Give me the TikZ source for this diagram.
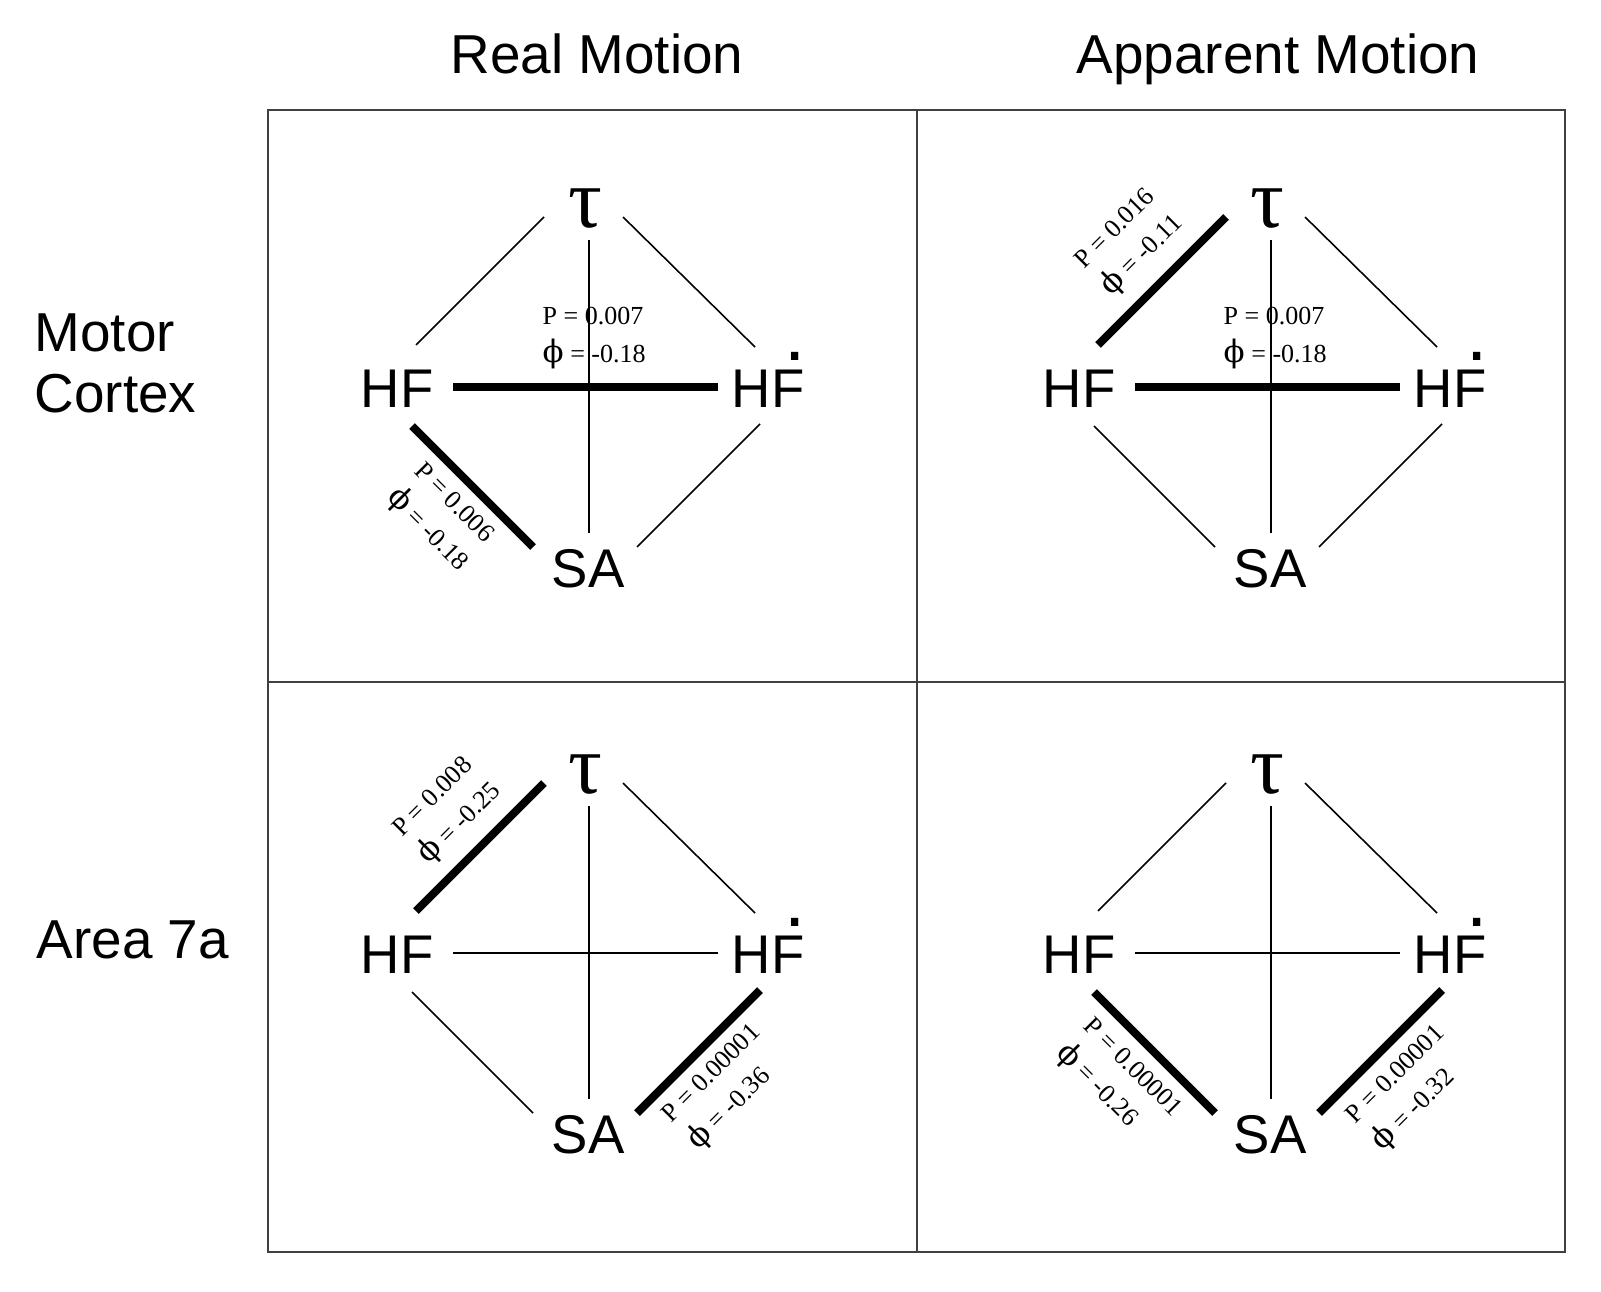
\documentclass[tikz,border=0pt]{standalone}
\usepackage{fontspec}
\usepackage{graphicx}
\setmainfont{Liberation Sans}
\newfontfamily\pfont{Liberation Serif}
\newfontfamily\phifont{DejaVu Serif}
\newcommand{\Fdot}{\makebox[0pt][l]{\hspace{0.255em}\raisebox{0.85em}{\scalebox{1.4}{.}}}F}
\newcommand{\ph}{{\phifont\fontsize{8.8}{10.8}\selectfont ϕ}}

\begin{document}
\begin{tikzpicture}[x=0.01cm, y=-0.01cm,
    frame/.style={draw=black!75, line width=0.5pt},
    link/.style={line width=0.45pt},
    sig/.style={line width=2.3pt},
    var/.style={inner sep=0pt, anchor=base, font=\fontsize{15.5}{18}\selectfont},
    tau/.style={inner sep=0pt, anchor=base, font=\pfont\fontsize{24}{24}\selectfont},
    stat/.style={inner sep=0pt, align=left, font=\pfont\fontsize{7.4}{10.8}\selectfont},
    head/.style={inner sep=0pt, font=\fontsize{15.6}{17.4}\selectfont}
]
    \useasboundingbox (0,0) rectangle (1601,1291);

    % Titles
    \node[head, anchor=base] (real) at (597,74) {Real Motion};
    \node[head, anchor=base] (app) at (1278,74) {Apparent Motion};
    \node[head, anchor=north west, align=left] (mc) at (34,313) {Motor\\Cortex};
    \node[head, anchor=base west] (a7) at (36,958) {Area 7a};

    % Grid
    \draw[frame] (268,110) rectangle (1565,1252);
    \draw[frame] (917,110) -- (917,1252);
    \draw[frame] (268,682) -- (1565,682);

    % Motor cortex, real motion
    \begin{scope}[shift={(589,387)}]
        \node[tau] (t1) at (-4,-160) {τ};
        \node[var] (hf1) at (-192,20) {HF};
        \node[var] (hd1) at (179,20) {H\Fdot};
        \node[var] (sa1) at (-1,200) {SA};
        \draw[link] ([shift={(-41,-10)}]t1.base) -- ([shift={(19,-62)}]hf1.base);
        \draw[link] ([shift={(38,-10)}]t1.base) -- ([shift={(-13,-60)}]hd1.base);
        \draw[link] ([shift={(4,13)}]t1.base) -- ([shift={(1,-54)}]sa1.base);
        \draw[link] ([shift={(-8,17)}]hd1.base) -- ([shift={(49,-40)}]sa1.base);
        \draw[sig] ([shift={(56,-20)}]hf1.base) -- ([shift={(-50,-20)}]hd1.base);
        \draw[sig] ([shift={(15,19)}]hf1.base) -- ([shift={(-55,-40)}]sa1.base);
        \node[stat, anchor=west] (s1a) at (-47,-49) {P = 0.007\\\ph{} = -0.18};
        \node[stat, rotate=-45] (s1b) at (-149,131) {P = 0.006\\\ph{} = -0.18};
    \end{scope}

    % Motor cortex, apparent motion
    \begin{scope}[shift={(1271,387)}]
        \node[tau] (t2) at (-4,-160) {τ};
        \node[var] (hf2) at (-192,20) {HF};
        \node[var] (hd2) at (179,20) {H\Fdot};
        \node[var] (sa2) at (-1,200) {SA};
        \draw[sig] ([shift={(-41,-10)}]t2.base) -- ([shift={(19,-62)}]hf2.base);
        \draw[link] ([shift={(38,-10)}]t2.base) -- ([shift={(-13,-60)}]hd2.base);
        \draw[link] ([shift={(4,13)}]t2.base) -- ([shift={(1,-54)}]sa2.base);
        \draw[link] ([shift={(15,19)}]hf2.base) -- ([shift={(-55,-40)}]sa2.base);
        \draw[link] ([shift={(-8,17)}]hd2.base) -- ([shift={(49,-40)}]sa2.base);
        \draw[sig] ([shift={(56,-20)}]hf2.base) -- ([shift={(-50,-20)}]hd2.base);
        \node[stat, anchor=west] (s2a) at (-48,-49) {P = 0.007\\\ph{} = -0.18};
        \node[stat, rotate=45] (s2b) at (-141,-144) {P = 0.016\\\ph{} = -0.11};
    \end{scope}

    % Area 7a, real motion
    \begin{scope}[shift={(589,953)}]
        \node[tau] (t3) at (-4,-160) {τ};
        \node[var] (hf3) at (-192,20) {HF};
        \node[var] (hd3) at (179,20) {H\Fdot};
        \node[var] (sa3) at (-1,200) {SA};
        \draw[sig] ([shift={(-41,-10)}]t3.base) -- ([shift={(19,-62)}]hf3.base);
        \draw[link] ([shift={(38,-10)}]t3.base) -- ([shift={(-13,-60)}]hd3.base);
        \draw[link] ([shift={(4,13)}]t3.base) -- ([shift={(1,-54)}]sa3.base);
        \draw[link] ([shift={(15,19)}]hf3.base) -- ([shift={(-55,-40)}]sa3.base);
        \draw[sig] ([shift={(-8,17)}]hd3.base) -- ([shift={(49,-40)}]sa3.base);
        \draw[link] ([shift={(56,-20)}]hf3.base) -- ([shift={(-50,-20)}]hd3.base);
        \node[stat, rotate=45] (s3a) at (-141,-142) {P = 0.008\\\ph{} = -0.25};
        \node[stat, rotate=45] (s3b) at (137,135) {P = 0.00001\\\ph{} = -0.36};
    \end{scope}

    % Area 7a, apparent motion
    \begin{scope}[shift={(1271,953)}]
        \node[tau] (t4) at (-4,-160) {τ};
        \node[var] (hf4) at (-192,20) {HF};
        \node[var] (hd4) at (179,20) {H\Fdot};
        \node[var] (sa4) at (-1,200) {SA};
        \draw[link] ([shift={(-41,-10)}]t4.base) -- ([shift={(19,-62)}]hf4.base);
        \draw[link] ([shift={(38,-10)}]t4.base) -- ([shift={(-13,-60)}]hd4.base);
        \draw[link] ([shift={(4,13)}]t4.base) -- ([shift={(1,-54)}]sa4.base);
        \draw[sig] ([shift={(15,19)}]hf4.base) -- ([shift={(-55,-40)}]sa4.base);
        \draw[sig] ([shift={(-8,17)}]hd4.base) -- ([shift={(49,-40)}]sa4.base);
        \draw[link] ([shift={(56,-20)}]hf4.base) -- ([shift={(-50,-20)}]hd4.base);
        \node[stat, rotate=-45] (s4a) at (-153,129) {P = 0.00001\\\ph{} = -0.26};
        \node[stat, rotate=45] (s4b) at (139,136) {P = 0.00001\\\ph{} = -0.32};
    \end{scope}
\end{tikzpicture}
\end{document}
